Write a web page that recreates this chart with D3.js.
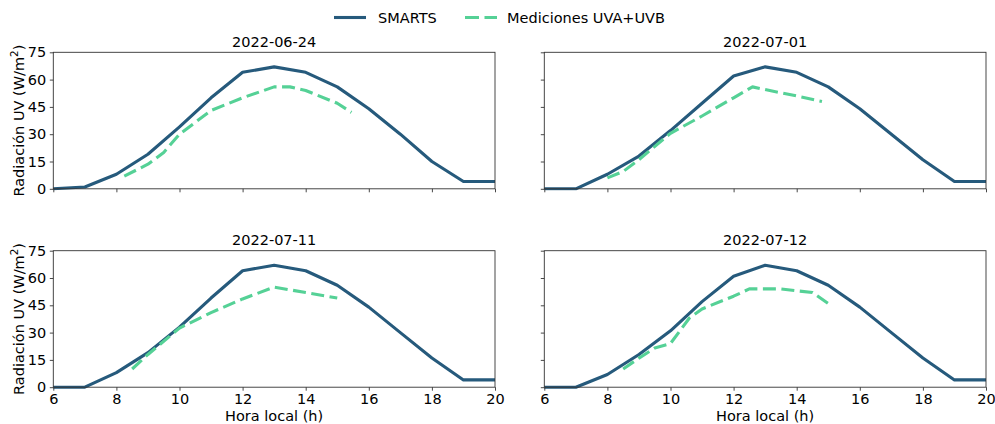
<!DOCTYPE html>
<html>
<head>
<meta charset="utf-8">
<script src="https://cdn.jsdelivr.net/npm/d3@7"></script>
<style>
  html, body { margin: 0; padding: 0; background: #fff; }
  svg { display: block; font-family: "DejaVu Sans", sans-serif; }
</style>
</head>
<body>
<svg id="chart" width="995" height="424"></svg>
<script>
// Hourly SMARTS model output (W/m²)
const hours = [6, 7, 8, 9, 10, 11, 12, 13, 14, 15, 16, 17, 18, 19, 20];
const smarts0624 = [0, 1, 8, 19, 34, 50, 64, 67, 64, 56, 44, 30, 15, 4, 4];
const smarts0701 = [0, 0, 8, 18, 32, 47, 62, 67, 64, 56, 44, 30, 16, 4, 4];
const smarts0711 = [0, 0, 8, 19, 33, 49, 64, 67, 64, 56, 44, 30, 16, 4, 4];
const smarts0712 = [0, 0, 7, 18, 31, 47, 61, 67, 64, 56, 44, 30, 16, 4, 4];

// Measured UVA+UVB irradiance (W/m²)
const measHours0624 = [8.25, 9, 9.5, 10, 11, 12, 13, 13.5, 14, 15, 15.45];
const measVals0624  = [7, 13.5, 20, 30, 43, 50, 56, 56, 54, 47, 42];
const measHours0701 = [8, 8.5, 9, 10, 11, 12, 12.6, 13, 14, 14.8];
const measVals0701  = [6, 9.5, 16, 30.5, 40, 50, 56, 54.5, 51, 48];
const measHours0711 = [8.5, 9, 10, 11, 12, 13, 14, 15];
const measVals0711  = [10, 18, 32.5, 41, 48.5, 55, 52, 49];
const measHours0712 = [8.5, 9, 9.5, 10, 10.6, 11, 12, 12.5, 13, 13.5, 14, 14.5, 15];
const measVals0712  = [10, 16, 21.5, 24, 38, 43, 50, 54, 54, 54, 53, 52, 46];

const panelTitles = ["2022-06-24", "2022-07-01", "2022-07-11", "2022-07-12"];
const xTicks = [6, 8, 10, 12, 14, 16, 18, 20];
const yTicks = [0, 15, 30, 45, 60, 75];
const seriesNames = ["SMARTS", "Mediciones UVA+UVB"];

const panels = [
  { title: panelTitles[0], smarts: smarts0624, mh: measHours0624, mv: measVals0624 },
  { title: panelTitles[1], smarts: smarts0701, mh: measHours0701, mv: measVals0701 },
  { title: panelTitles[2], smarts: smarts0711, mh: measHours0711, mv: measVals0711 },
  { title: panelTitles[3], smarts: smarts0712, mh: measHours0712, mv: measVals0712 }
];

const colSmarts = "#265a7c";
const colMeas = "#55d196";
const fontSize = 14.5;
const lw = 3.1;
const dash = "13,5.5";

const svg = d3.select("#chart");

// Grid layout of the 2x2 axes
const colX = [53.3, 544.3];
const rowY = [52.3, 250.7];
const pw = 441.7, ph = 136.5;

const x = d3.scaleLinear().domain([6, 20]).range([0, pw]);
const y = d3.scaleLinear().domain([0, 75]).range([ph, 0]);

const line = d3.line().x(d => x(d[0])).y(d => y(d[1]));

panels.forEach((p, i) => {
  const col = i % 2, row = Math.floor(i / 2);
  const g = svg.append("g").attr("transform", `translate(${colX[col]},${rowY[row]})`);

  const clipId = "clip" + i;
  g.append("clipPath").attr("id", clipId)
    .append("rect").attr("x", -2).attr("y", -2).attr("width", pw + 4).attr("height", ph + 4);

  // Model curve
  g.append("path")
    .datum(hours.map((h, k) => [h, p.smarts[k]]))
    .attr("d", line)
    .attr("clip-path", `url(#${clipId})`)
    .attr("fill", "none")
    .attr("stroke", colSmarts)
    .attr("stroke-width", lw)
    .attr("stroke-linejoin", "round");

  // Measurements
  g.append("path")
    .datum(p.mh.map((h, k) => [h, p.mv[k]]))
    .attr("d", line)
    .attr("clip-path", `url(#${clipId})`)
    .attr("fill", "none")
    .attr("stroke", colMeas)
    .attr("stroke-width", lw)
    .attr("stroke-dasharray", dash)
    .attr("stroke-linejoin", "round");

  // Axes
  const xAxis = d3.axisBottom(x).tickValues(xTicks).tickSize(3.5).tickPadding(3.5)
    .tickFormat(row === 1 ? d3.format("d") : () => "");
  const yAxis = d3.axisLeft(y).tickValues(yTicks).tickSize(3.5).tickPadding(3.5)
    .tickFormat(col === 0 ? d3.format("d") : () => "");

  const gx = g.append("g").attr("transform", `translate(0,${ph})`).call(xAxis);
  const gy = g.append("g").call(yAxis);
  [gx, gy].forEach(a => {
    a.select(".domain").remove();
    a.selectAll(".tick line").attr("stroke", "#333").attr("stroke-width", 0.9);
    a.selectAll(".tick text").attr("fill", "#000")
      .style("font-family", "DejaVu Sans, sans-serif").style("font-size", fontSize + "px");
  });

  // Frame
  g.append("rect")
    .attr("width", pw).attr("height", ph)
    .attr("fill", "none").attr("stroke", "#333").attr("stroke-width", 0.9);

  // Title
  g.append("text")
    .attr("x", pw / 2).attr("y", -5.5)
    .attr("text-anchor", "middle")
    .style("font-size", fontSize + "px")
    .attr("fill", "#000")
    .text(p.title);

  // X label for bottom row
  if (row === 1) {
    g.append("text")
      .attr("x", pw / 2).attr("y", ph + 33.5)
      .attr("text-anchor", "middle")
      .style("font-size", fontSize + "px")
      .attr("fill", "#000")
      .text("Hora local (h)");
  }

  // Y label for left column
  if (col === 0) {
    const t = g.append("text")
      .attr("transform", `translate(${23.5 - colX[0]},${ph / 2}) rotate(-90)`)
      .attr("text-anchor", "middle")
      .style("font-size", fontSize + "px")
      .attr("fill", "#000");
    t.append("tspan").text("Radiación UV (W/m");
    t.append("tspan").attr("dy", -5.5).style("font-size", "10.5px").text("2");
    t.append("tspan").attr("dy", 5.5).text(")");
  }
});

// Legend
const leg = svg.append("g");
leg.append("line").attr("x1", 334).attr("x2", 366).attr("y1", 17.5).attr("y2", 17.5)
  .attr("stroke", colSmarts).attr("stroke-width", lw);
leg.append("text").attr("x", 378).attr("y", 22.7).style("font-size", fontSize + "px")
  .attr("fill", "#000").text(seriesNames[0]);
leg.append("line").attr("x1", 465).attr("x2", 497).attr("y1", 17.5).attr("y2", 17.5)
  .attr("stroke", colMeas).attr("stroke-width", lw).attr("stroke-dasharray", "14,5.5");
leg.append("text").attr("x", 507).attr("y", 22.7).style("font-size", fontSize + "px")
  .attr("fill", "#000").text(seriesNames[1]);
</script>
</body>
</html>
